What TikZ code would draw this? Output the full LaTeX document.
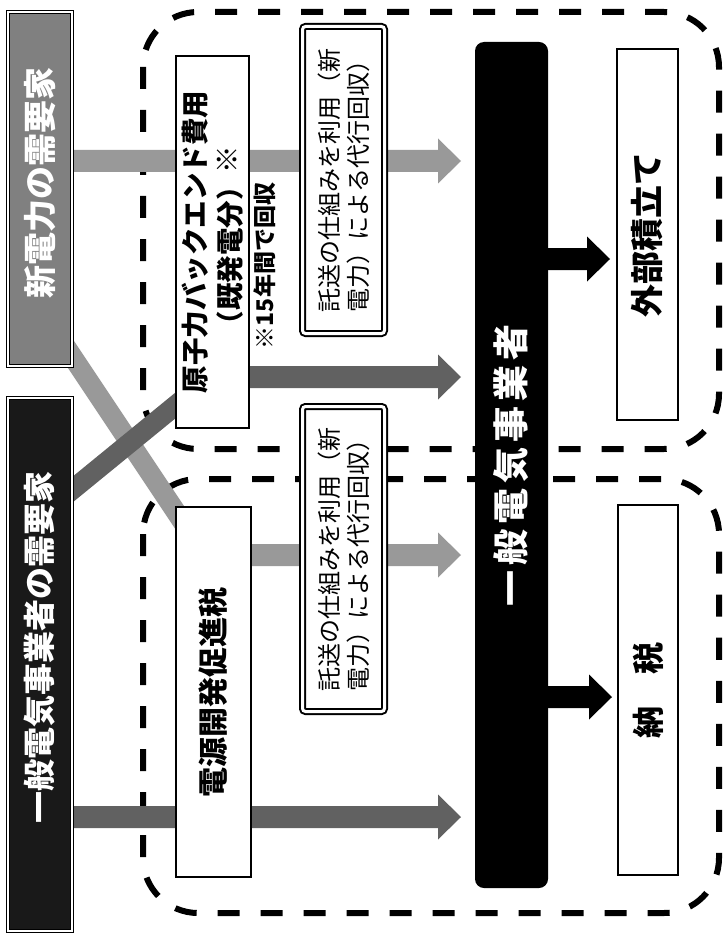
\documentclass[tikz,border=0pt]{standalone}
\usepackage{fontspec}
\newfontfamily\jp{Noto Sans CJK JP}
\usetikzlibrary{calc,backgrounds}
\definecolor{lightarr}{gray}{0.6}
\definecolor{darkarr}{gray}{0.38}
\definecolor{shinfill}{gray}{0.5}
\definecolor{ippanfill}{gray}{0.1}
\newcommand{\fatarrow}[3]{%
  \fill[#3] ($(#1)+(0,-11)$) -- ($(#2)+(-23,-11)$) -- ($(#2)+(-23,-22.5)$) -- (#2)
    -- ($(#2)+(-23,22.5)$) -- ($(#2)+(-23,11)$) -- ($(#1)+(0,11)$) -- cycle;}
\begin{document}
\begin{tikzpicture}[x=1pt,y=-1pt,
  every node/.style={inner sep=0pt, outer sep=0pt},
  vbox/.style={rotate=90, draw=black, line width=2.4pt, fill=white, align=center},
  custbox/.style={rotate=90, draw=black, double=white, double distance=1.2pt,
    line width=1.6pt, text=white, align=center},
  tbox/.style={rotate=90, draw=black, double=white, double distance=3pt,
    line width=2pt, rounded corners=3pt, fill=white, align=left,
    font=\jp\fontsize{24}{29}\selectfont},
  group/.style={draw=black, line width=6pt, dash pattern=on 22pt off 21pt, rounded corners=55pt},
  band/.style={line width=20pt}
]
\useasboundingbox (0,0) rectangle (722,933);

% customer boxes
\node[custbox, fill=shinfill, minimum width=354pt, minimum height=64pt,
  font=\jp\bfseries\fontsize{33}{36}\selectfont] (shin) at (40,189) {\hspace{12pt}新電力の需要家};
\node[custbox, fill=ippanfill, minimum width=533pt, minimum height=64pt,
  font=\jp\bfseries\fontsize{32}{36}\selectfont] (ippan) at (40,664.5) {\hspace{35pt}一般電気事業者の需要家};

% cost boxes
\node[vbox, minimum width=372pt, minimum height=73pt,
  font=\jp\bfseries\fontsize{27.5}{35}\selectfont] (genshi) at (212.5,242)
  {原子力バックエンド費用\\（既発電分）\raisebox{3pt}{※}};
\node[rotate=90, font=\jp\bfseries\fontsize{23}{26}\selectfont] (note) at (265,266) {※15年間で回収};
\node[vbox, minimum width=370pt, minimum height=75pt,
  font=\jp\bfseries\fontsize{30}{34}\selectfont] (dengen) at (213.5,692) {電源開発促進税};

% consignment boxes
\node[tbox, minimum width=307pt, minimum height=82pt] (tak1) at (343.5,180)
  {託送の仕組みを利用（新\\電力）による代行回収）};
\node[tbox, minimum width=305pt, minimum height=82pt] (tak2) at (343.5,559)
  {託送の仕組みを利用（新\\電力）による代行回収）};

% general utility bar
\node[rotate=90, fill=black, rounded corners=9pt, minimum width=846pt, minimum height=73pt,
  text=white, font=\jp\bfseries\fontsize{36}{40}\selectfont] (bar) at (511.5,465)
  {一\hspace{5pt}般\hspace{5pt}電\hspace{5pt}気\hspace{5pt}事\hspace{5pt}業\hspace{5pt}者};

% destination boxes
\node[vbox, minimum width=371pt, minimum height=61pt,
  font=\jp\bfseries\fontsize{33}{36}\selectfont] (gaibu) at (647.5,234.5) {外部積立て};
\node[vbox, minimum width=370pt, minimum height=60pt,
  font=\jp\bfseries\fontsize{32}{36}\selectfont] (nozei) at (648,690) {納　税};

% arrow tips
\coordinate (t1) at (461,161);
\coordinate (t2) at (461,377);
\coordinate (t3) at (461,555);
\coordinate (t4) at (461,817);
\coordinate (t5) at (610,259);
\coordinate (t6) at (612,697);
\coordinate (a0) at (shin.south |- 0,356);
\coordinate (a1) at (dengen.north |- 0,512);
\coordinate (b0) at (ippan.south |- 0,490);
\coordinate (b1) at (genshi.north |- 0,405);

\begin{pgfonlayer}{background}
  \draw[group] (143,12) rectangle (719,449);
  \draw[group] (143,479) rectangle (719,913);
  \draw[band, lightarr] ($(a0)!-0.1!(a1)$) -- ($(a1)!-0.1!(a0)$);
  \draw[band, darkarr] ($(b0)!-0.1!(b1)$) -- ($(b1)!-0.1!(b0)$);
  \fatarrow{shin.south |- t1}{t1}{lightarr}
  \fatarrow{genshi.south |- t2}{t2}{darkarr}
  \fatarrow{dengen.south |- t3}{t3}{lightarr}
  \fatarrow{ippan.south |- t4}{t4}{darkarr}
  \fatarrow{bar.south |- t5}{t5}{black}
  \fatarrow{bar.south |- t6}{t6}{black}
\end{pgfonlayer}
\end{tikzpicture}
\end{document}
